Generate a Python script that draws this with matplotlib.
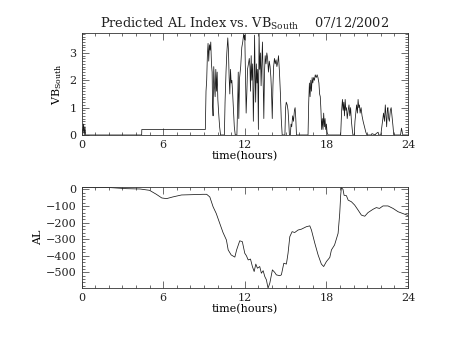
import matplotlib
matplotlib.use("Agg")
import matplotlib.pyplot as plt
from matplotlib.ticker import MultipleLocator

# VB_South (southward IMF * solar wind speed) vs time in hours
vb_time = [0.0, 0.05, 0.1, 0.15, 0.2, 0.25, 0.3, 4.42, 4.43, 9.10,
           9.15, 9.2, 9.25, 9.3, 9.35, 9.4, 9.45, 9.5, 9.55, 9.6, 9.63, 9.67, 9.72, 9.77,
           9.82, 9.87, 9.92, 9.97, 10.02, 10.08, 10.15, 10.22, 10.5, 10.55, 10.62, 10.68,
           10.75, 10.8, 10.85, 10.9, 10.95, 11.0, 11.05, 11.1, 11.17, 11.23, 11.3, 11.42,
           11.47, 11.52, 11.56, 11.62, 11.7, 11.78, 11.85, 11.92, 11.97, 12.0, 12.05, 12.1,
           12.15, 12.2, 12.27, 12.33, 12.38, 12.42, 12.47, 12.52, 12.58, 12.63, 12.68, 12.72,
           12.76, 12.8, 12.85, 12.9, 12.95, 13.0, 13.05, 13.1, 13.15, 13.2, 13.25, 13.3,
           13.35, 13.4, 13.45, 13.5, 13.56, 13.62, 13.68, 13.74, 13.8, 13.86, 13.92, 13.97,
           14.02, 14.07, 14.12, 14.18, 14.24, 14.3, 14.36, 14.42, 14.48, 14.55, 14.62, 14.68,
           14.75, 14.95, 15.0, 15.05, 15.12, 15.18, 15.23, 15.28, 15.35, 15.4, 15.45, 15.52,
           15.58, 15.65, 15.7, 15.75, 15.8, 16.65, 16.7, 16.75, 16.8, 16.85, 16.9, 16.95,
           17.0, 17.06, 17.12, 17.18, 17.25, 17.32, 17.38, 17.45, 17.5, 17.55, 17.6, 17.65,
           17.7, 17.75, 17.8, 17.85, 17.9, 17.95, 18.0, 18.05, 18.12, 19.05, 19.12, 19.18,
           19.23, 19.28, 19.33, 19.38, 19.43, 19.48, 19.53, 19.6, 19.66, 19.72, 19.78, 19.84,
           19.9, 19.95, 20.05, 20.1, 20.16, 20.22, 20.28, 20.33, 20.38, 20.43, 20.48, 20.55,
           20.62, 20.7, 20.8, 20.9, 20.98, 21.3, 21.35, 21.6, 21.65, 21.8, 21.85, 22.0,
           22.05, 22.12, 22.2, 22.27, 22.33, 22.38, 22.43, 22.48, 22.52, 22.58, 22.63, 22.7,
           22.76, 22.82, 22.9, 22.95, 23.45, 23.52, 23.58, 23.62, 24.0]
vb_south = [0.0, 0.2, 0.1, 0.4, 0.0, 0.3, 0.0, 0.0, 0.2, 0.2,
            1.6, 2.0, 2.9, 3.35, 2.7, 3.3, 3.1, 3.4, 2.6, 2.3, 1.1, 0.7, 2.5, 1.8,
            1.4, 2.4, 1.6, 2.3, 1.3, 0.8, 0.3, 0.0, 0.0, 1.2, 2.3, 3.0,
            3.55, 3.1, 2.1, 1.5, 2.4, 1.9, 2.0, 1.6, 0.9, 0.3, 0.0, 0.0,
            1.0, 2.3, 0.6, 2.1, 2.5, 3.2, 3.4, 3.7, 3.5, 3.65, 2.2, 0.8,
            1.5, 2.4, 2.6, 2.8, 2.5, 1.6, 2.9, 2.0, 2.6, 0.5, 1.8, 3.65,
            2.2, 1.2, 2.6, 1.9, 2.4, 0.2, 3.7, 2.4, 3.0, 1.8, 2.6, 3.4,
            2.0, 0.6, 2.3, 2.9, 2.6, 3.0, 2.8, 2.3, 2.7, 2.5, 2.1, 1.5,
            0.6, 1.8, 2.5, 2.8, 2.6, 2.75, 2.5, 2.65, 2.9, 2.3, 1.5, 0.6,
            0.0, 0.0, 1.0, 1.2, 1.1, 0.9, 0.5, 0.0, 0.0, 0.4, 0.3, 0.7,
            0.5, 0.9, 1.0, 0.6, 0.0, 0.0, 1.2, 1.9, 1.4, 2.0, 1.6, 2.1,
            1.9, 2.1, 2.0, 2.2, 2.1, 2.2, 2.1, 1.9, 1.5, 1.4, 0.9, 0.2,
            0.6, 0.2, 0.8, 0.3, 0.6, 0.2, 0.4, 0.1, 0.0, 0.0, 0.9, 1.3,
            0.9, 1.2, 0.7, 1.3, 0.9, 1.0, 0.6, 0.9, 1.1, 0.7, 1.0, 0.5,
            0.2, 0.0, 0.0, 0.5, 0.8, 1.1, 0.8, 1.3, 1.0, 1.1, 0.8, 1.0,
            0.7, 0.5, 0.3, 0.1, 0.0, 0.0, 0.05, 0.0, 0.05, 0.1, 0.0, 0.0,
            0.2, 0.5, 0.8, 0.5, 1.1, 0.7, 0.3, 0.9, 1.0, 0.6, 0.5, 0.9,
            1.0, 0.7, 0.3, 0.0, 0.0, 0.25, 0.1, 0.0, 0.0]

# Predicted AL index (nT)
al_time = [0.0, 1.0, 2.0, 3.3, 4.3, 5.0, 5.5, 5.9, 6.25, 6.7, 7.35, 8.2, 8.9, 9.2,
           9.43, 9.67, 9.9, 10.16, 10.4, 10.65, 10.78, 11.0, 11.27, 11.4, 11.63, 11.82,
           12.0, 12.12, 12.25, 12.42, 12.56, 12.69, 12.81, 12.93, 13.1, 13.22, 13.35,
           13.47, 13.59, 13.71, 13.84, 14.03, 14.2, 14.32, 14.57, 14.69, 14.87, 15.06,
           15.18, 15.31, 15.48, 15.67, 15.92, 16.16, 16.53, 16.78, 16.9, 17.15, 17.39,
           17.63, 17.8, 18.0, 18.25, 18.37, 18.6, 18.86, 18.98, 19.05, 19.1, 19.22,
           19.3, 19.47, 19.6, 19.84, 20.08, 20.33, 20.57, 20.82, 21.06, 21.43, 21.67,
           21.9, 22.16, 22.53, 22.9, 23.27, 23.76, 24.0]
al_index = [12, 10, 11, 4, 2, -6, -30, -52, -56, -46, -34, -32, -30, -30,
            -46, -105, -145, -205, -260, -305, -365, -395, -408, -365, -310, -315,
            -385, -400, -425, -420, -465, -495, -450, -475, -465, -505, -490,
            -525, -545, -595, -565, -485, -500, -515, -520, -515, -445, -450,
            -385, -285, -255, -260, -245, -240, -225, -220, -245, -325, -395,
            -450, -465, -435, -410, -365, -335, -265, -145, -36, 10, 0,
            -36, -38, -65, -75, -95, -125, -155, -162, -140, -120, -110,
            -115, -100, -100, -115, -135, -150, -157]

hour_ticks = [0, 6, 12, 18, 24]

plt.rcParams['font.family'] = 'DejaVu Serif'
plt.rcParams['mathtext.fontset'] = 'custom'
plt.rcParams['mathtext.rm'] = 'DejaVu Serif'
plt.rcParams['font.size'] = 8
plt.rcParams['text.color'] = '#222222'

fig = plt.figure(figsize=(4.53, 3.40), dpi=100)
ax1 = fig.add_axes([0.18, 0.603, 0.7207, 0.30])
ax2 = fig.add_axes([0.18, 0.153, 0.7207, 0.297])


def style_axis(ax, ymajor, yminor):
    ax.set_xlim(0, 24)
    ax.set_xticks(hour_ticks)
    ax.xaxis.set_minor_locator(MultipleLocator(1))
    ax.yaxis.set_major_locator(MultipleLocator(ymajor))
    ax.yaxis.set_minor_locator(MultipleLocator(yminor))
    ax.tick_params(which='both', direction='in', top=True, right=True, width=0.5,
                   colors='#333333', labelcolor='#222222')
    ax.tick_params(which='major', length=5)
    ax.tick_params(which='minor', length=2.5)
    for sp in ax.spines.values():
        sp.set_linewidth(0.6)
        sp.set_color('#333333')
    ax.set_xlabel('time(hours)', labelpad=1)


ax1.plot(vb_time, vb_south, color='#1a1a1a', linewidth=0.55)
style_axis(ax1, 1, 0.1)
ax1.set_ylim(0, 3.73)
ax1.set_ylabel(r'$\mathrm{VB_{South}}$', labelpad=4)
ax1.set_title(r'Predicted AL Index vs. $\mathrm{VB_{South}}$    07/12/2002',
              fontsize=9.3, pad=4)

ax2.plot(al_time, al_index, color='#1a1a1a', linewidth=0.55)
style_axis(ax2, 100, 20)
ax2.set_ylim(-594, 14)
ax2.set_ylabel('AL', labelpad=2)

fig.savefig('out.png', dpi=100)
